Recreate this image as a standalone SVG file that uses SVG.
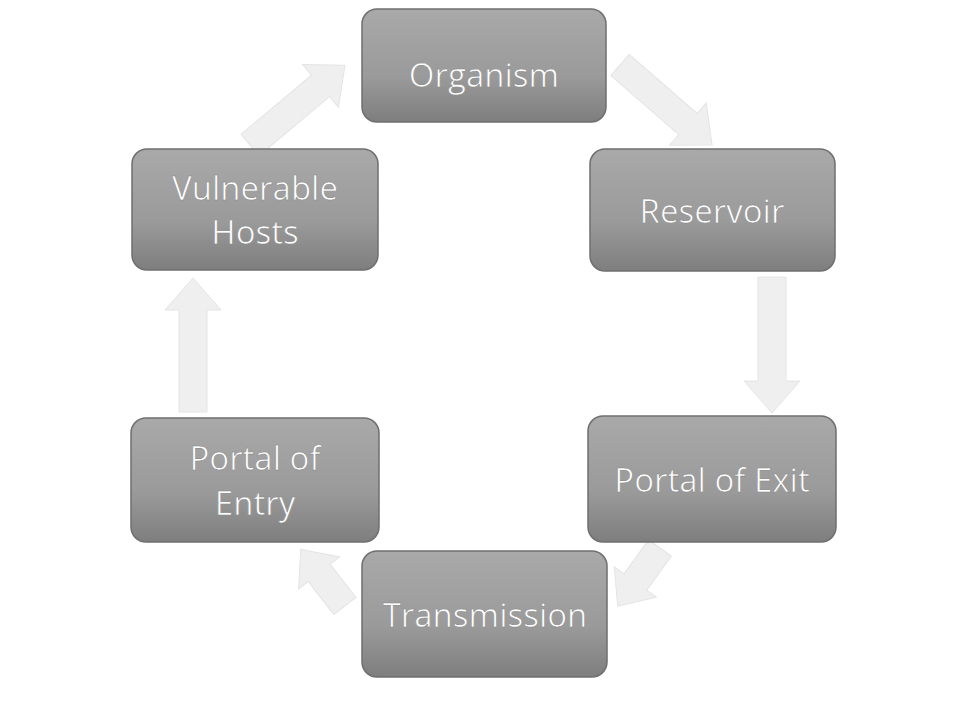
<svg xmlns="http://www.w3.org/2000/svg" width="961" height="709" viewBox="0 0 961 709">
<defs>
<linearGradient id="g" x1="0" y1="0" x2="0" y2="1">
<stop offset="0" stop-color="#a9a9a9"/>
<stop offset="0.6" stop-color="#9a9a9a"/>
<stop offset="1" stop-color="#7e7e7e"/>
</linearGradient>
<style>
.box{fill:url(#g);stroke:#6f6f6f;stroke-width:1.5}
.lbl{font-family:"Open Sans","Noto Sans",sans-serif;font-size:33px;fill:#ffffff;stroke:#8a8a8a;stroke-width:0.6;text-anchor:middle}
.arr{fill:#efefef;stroke:#e4e4e4;stroke-width:1}
</style>
</defs>
<rect width="961" height="709" fill="#ffffff"/>
<g id="connectors">
<polygon class="arr" transform="translate(620,65) rotate(41)" points="0,-14 90,-14 90,-28 122,0 90,28 90,14 0,14"/>
<polygon class="arr" transform="translate(772,277) rotate(90)" points="0,-14 104,-14 104,-28 136,0 104,28 104,14 0,14"/>
<polygon class="arr" transform="translate(660,548) rotate(126)" points="0,-14 42,-14 42,-26 72,0 42,26 42,14 0,14"/>
<polygon class="arr" transform="translate(345,606) rotate(232)" points="0,-14 42,-14 42,-26 72,0 42,26 42,14 0,14"/>
<polygon class="arr" transform="translate(193,412) rotate(-90)" points="0,-14 102,-14 102,-28 134,0 102,28 102,14 0,14"/>
<polygon class="arr" transform="translate(250,145) rotate(-40)" points="0,-14 92,-14 92,-28 124,0 92,28 92,14 0,14"/>
</g>
<g id="organism">
<rect class="box" x="362" y="9" width="244" height="113" rx="15"/>
<text class="lbl" x="484" y="87">Organism</text>
</g>
<g id="reservoir">
<rect class="box" x="590" y="149" width="245" height="122" rx="15"/>
<text class="lbl" x="712" y="223">Reservoir</text>
</g>
<g id="portal-of-exit">
<rect class="box" x="588" y="416" width="248" height="126" rx="15"/>
<text class="lbl" x="712" y="492">Portal of Exit</text>
</g>
<g id="transmission">
<rect class="box" x="362" y="551" width="245" height="126" rx="15"/>
<text class="lbl" x="485" y="627">Transmission</text>
</g>
<g id="portal-of-entry">
<rect class="box" x="131" y="418" width="248" height="124" rx="15"/>
<text class="lbl" x="255" y="470">Portal of</text>
<text class="lbl" x="255" y="515">Entry</text>
</g>
<g id="vulnerable-hosts">
<rect class="box" x="132" y="149" width="246" height="121" rx="15"/>
<text class="lbl" x="255" y="200">Vulnerable</text>
<text class="lbl" x="255" y="244">Hosts</text>
</g>
</svg>
